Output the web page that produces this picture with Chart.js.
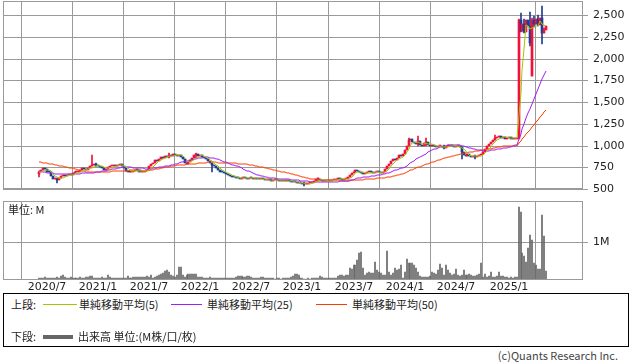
<!DOCTYPE html>
<html>
<head>
<meta charset="utf-8">
<script src="https://cdn.jsdelivr.net/npm/chart.js@4.4.1/dist/chart.umd.min.js"></script>
<style>
  body { margin: 0; width: 638px; height: 362px; background: #fff; position: relative; overflow: hidden;
         font-family: "Noto Sans CJK JP", "DejaVu Sans", sans-serif; color: #222; }
  .box { position: absolute; }
  .t { position: absolute; font-size: 11px; line-height: 13px; white-space: nowrap; }
  .ln { position: absolute; height: 1px; }
</style>
</head>
<body>
<div class="box" style="left:0;top:0;width:638px;height:192px"><canvas id="price"></canvas></div>
<div class="box" style="left:0;top:196px;width:638px;height:97px"><canvas id="vol"></canvas></div>
<div class="t" style="left:8px;top:203px">単位: M</div>

<div class="box" style="left:3px;top:293px;width:624px;height:52px;border:1px solid #000"></div>
<div class="t" style="left:11px;top:298px">上段:</div>
<div class="ln" style="left:43px;top:304px;width:34px;background:#a0c800"></div>
<div class="t" style="left:79px;top:298px">単純移動平均(5)</div>
<div class="ln" style="left:171px;top:304px;width:31px;background:#a020f0"></div>
<div class="t" style="left:207px;top:298px">単純移動平均(25)</div>
<div class="ln" style="left:316px;top:304px;width:31px;background:#ff3c00"></div>
<div class="t" style="left:352px;top:298px">単純移動平均(50)</div>
<div class="t" style="left:11px;top:330px">下段:</div>
<div class="ln" style="left:43px;top:335px;width:30px;height:4px;background:#666"></div>
<div class="t" style="left:78px;top:330px">出来高 単位:(M株/口/枚)</div>
<div class="t" style="right:20px;top:349px;color:#444">(c)Quants Research Inc.</div>

<script>
// weekly closes, June 2020 to May 2025
const closes = [
  700, 715, 745, 725, 700, 690, 650, 610, 620, 600,
  630, 650, 660, 655, 665, 670, 660, 680, 690, 700, 700,
  720, 740, 730, 720, 740, 760, 780, 790, 770, 760, 750,
  740, 720, 730, 750, 760, 770, 780, 760, 780, 790, 770,
  740, 710, 700, 690, 700, 710, 720, 715, 700, 690, 700, 710, 720,
  760, 790, 800, 830, 820, 850, 870, 860, 880, 870, 890, 880, 900, 890, 880, 895, 870,
  840, 800, 790, 810, 830, 860, 890, 900, 880, 890, 870,
  860, 840, 820, 800, 780, 760, 740, 720, 700, 690, 680, 670,
  660, 650, 640, 635, 630, 625, 620, 630, 640, 625, 620, 630, 625, 615, 620,
  615, 610, 620, 610, 600, 605, 610, 595, 600, 605, 600, 595,
  600, 595, 590, 595, 590, 585, 580,
  575, 570, 565, 570, 560, 555, 560, 565, 570, 575,
  590, 610, 615, 600, 595, 590,
  595, 600, 595, 600, 605, 610, 620, 615, 605, 610, 620,
  640, 660, 680, 700, 720, 710, 690, 680, 670,
  680, 690, 700, 690, 680, 690, 700, 690, 680, 700,
  730, 760, 790, 820, 840, 830, 860, 890, 880, 900,
  950, 1000, 1060, 1080, 1040,
  1030, 1020, 1050, 1010, 1000, 1030, 1040, 1010, 1000, 1010,
  990, 980, 990, 1000, 980, 970, 990, 1000, 1010, 990, 980, 990, 1000, 980,
  930, 890, 880, 900, 880,
  870, 880, 870, 880, 890, 900, 930, 960, 990, 1020, 1040, 1060,
  1090, 1100, 1110, 1090, 1100, 1080, 1090, 1100, 1080, 1070, 1080, 1085,
  2440,
  2320, 2400, 2310, 2440, 2380, 2180, 2440, 2400, 2450, 2390, 2470, 2290, 2330, 2380
];
const firstOpen = 670;
// weeks that opened away from the previous close: [week, open]
const gapOpens = [[251, 1800]];
// estimated closes of the 50 weeks before the window (for the moving averages)
const prevCloses = [
  880, 870, 860, 880, 890, 870, 860, 850, 870, 880, 860, 850, 870, 880, 890, 900, 910, 920, 930, 950,
  970, 990, 1000, 980, 960, 940, 900, 880, 850, 800, 760, 720, 700, 680, 650,
  620, 640, 650, 660, 680, 670, 690, 700, 680, 690, 700, 680, 690, 700, 690
];
// [week, low, high] for the longer shadows
const wicks = [
  [0, 640, 710], [9, 570, 630], [27, 760, 890], [29, 760, 800], [66, 860, 910], [80, 860, 915],
  [88, 690, 800], [135, 540, 575], [142, 590, 625], [188, 1000, 1090], [193, 1000, 1110],
  [197, 1000, 1090], [206, 960, 1010], [215, 845, 980], [222, 850, 890], [232, 1060, 1120],
  [244, 1080, 2460], [245, 2300, 2520], [247, 2290, 2450], [250, 2150, 2540], [251, 1800, 2470],
  [252, 2360, 2490], [254, 2380, 2500], [256, 2170, 2610], [257, 2290, 2350]
];
// weekly volume, millions
const volumes = [
  0.05, 0.06, 0.04, 0.08, 0.06, 0.05, 0.04, 0.06, 0.05, 0.07, 0.06,
  0.10, 0.13,
  0.07, 0.05, 0.04, 0.08, 0.06, 0.05, 0.04, 0.06,
  0.07, 0.05, 0.06, 0.08, 0.09, 0.10, 0.11,
  0.05, 0.06, 0.04, 0.05, 0.07, 0.06, 0.05, 0.13,
  0.08, 0.06, 0.05, 0.04, 0.05, 0.06, 0.05, 0.04, 0.06, 0.10,
  0.05, 0.06, 0.07, 0.08, 0.08, 0.09, 0.09, 0.08, 0.09, 0.10, 0.08, 0.13,
  0.06, 0.07, 0.10, 0.12, 0.15, 0.18, 0.23, 0.26, 0.22, 0.14,
  0.10, 0.08, 0.12, 0.35, 0.34, 0.12,
  0.09, 0.14, 0.16, 0.17, 0.17, 0.17, 0.16, 0.09,
  0.07, 0.08, 0.05, 0.06, 0.04, 0.07, 0.05, 0.06, 0.04, 0.05, 0.06, 0.05, 0.04, 0.05, 0.06, 0.04, 0.05, 0.06,
  0.09, 0.10, 0.11, 0.10, 0.09, 0.08, 0.10, 0.11, 0.07, 0.05, 0.04,
  0.06, 0.05, 0.08, 0.07, 0.05, 0.04, 0.06, 0.05, 0.04, 0.03, 0.05, 0.04, 0.03, 0.04, 0.05, 0.04, 0.06, 0.08, 0.10,
  0.15, 0.17, 0.12, 0.06,
  0.04, 0.03, 0.03, 0.04, 0.03, 0.04, 0.05, 0.04, 0.06, 0.10,
  0.08, 0.06, 0.04, 0.05, 0.04, 0.04, 0.05, 0.06,
  0.11, 0.13, 0.12, 0.10, 0.14, 0.12,
  0.31, 0.30, 0.40, 0.38, 0.53, 0.70, 0.73,
  0.31, 0.13, 0.19, 0.20, 0.19,
  0.19, 0.46, 0.25, 0.22, 0.18, 0.13, 0.12, 0.75, 0.20, 0.13,
  0.18, 0.31, 0.25, 0.28, 0.40, 0.05, 0.22, 0.56, 0.44, 0.44,
  0.44, 0.38, 0.31, 0.22, 0.10, 0.09, 0.08, 0.07, 0.08, 0.10,
  0.20, 0.19, 0.17, 0.27, 0.42, 0.31, 0.13, 0.40, 0.25, 0.18,
  0.12, 0.16, 0.28, 0.13, 0.10, 0.12, 0.27, 0.13, 0.13, 0.15,
  0.13, 0.10, 0.11, 0.13, 0.16, 0.44, 0.09, 0.16, 0.08, 0.10,
  0.22, 0.09, 0.08, 0.10, 0.22, 0.11, 0.10, 0.07, 0.08, 0.05, 0.09, 0.06, 0.07, 0.07,
  1.91, 1.78, 0.70, 0.64, 0.48, 0.83, 1.18, 1.05, 0.44, 0.38, 0.30, 0.28, 1.71, 1.16, 0.24
];
const tickWeeks = [4, 30, 56, 82, 108, 134, 160, 186, 212, 239];
const tickLabels = ['2020/7', '2021/1', '2021/7', '2022/1', '2022/7', '2023/1', '2023/7', '2024/1', '2024/7', '2025/1'];
const priceTicks = [500, 750, 1000, 1250, 1500, 1750, 2000, 2250, 2500];

const UP = '#f2103c', DOWN = '#1c3f94', GRID = '#9a9a9a';
const opens = closes.map((c, i) => i ? closes[i - 1] : firstOpen);
gapOpens.forEach(([w, o]) => { opens[w] = o; });
const colorAt = i => closes[i] >= opens[i] ? UP : DOWN;

function sma(n) {
  const all = prevCloses.concat(closes);
  return closes.map((_, i) => {
    const end = prevCloses.length + i + 1;
    let s = 0;
    for (let k = end - n; k < end; k++) s += all[k];
    return { x: i, y: s / n };
  });
}

const frame = {
  id: 'frame',
  afterDraw(c) {
    const a = c.chartArea, ctx = c.ctx;
    ctx.save();
    ctx.strokeStyle = GRID;
    ctx.lineWidth = 1;
    ctx.strokeRect(Math.round(a.left) + 0.5, Math.round(a.top) + 0.5,
      Math.round(a.right - a.left) - 1, Math.round(a.bottom - a.top) - 1);
    ctx.restore();
  }
};

// keep the plot area where the layout padding puts it (no extra room for end labels)
const noPad = s => { s.paddingTop = 0; s.paddingBottom = 0; s.paddingLeft = 0; s.paddingRight = 0; };

const xScale = (showLabels) => ({
  type: 'linear', min: -18.4, max: 276.8, offset: false, alignToPixels: true,
  afterBuildTicks: s => { s.ticks = tickWeeks.map(v => ({ value: v })); },
  afterFit: s => { s.height = showLabels ? 13 : 0; noPad(s); },
  grid: { color: GRID, drawTicks: false },
  border: { display: false },
  ticks: {
    display: showLabels, autoSkip: false, maxRotation: 0, padding: 1,
    color: '#222', font: { family: 'DejaVu Sans', size: 11 },
    callback: v => tickLabels[tickWeeks.indexOf(v)]
  }
});

Chart.defaults.animation = false;
Chart.defaults.plugins.legend.display = false;
Chart.defaults.plugins.tooltip.enabled = false;

new Chart(document.getElementById('price'), {
  type: 'bar',
  data: {
    datasets: [
      { type: 'line', data: sma(5), borderColor: '#a0c800', borderWidth: 1, pointRadius: 0, order: 0 },
      { type: 'line', data: sma(25), borderColor: '#a020f0', borderWidth: 1, pointRadius: 0, order: 1 },
      { type: 'line', data: sma(50), borderColor: '#ff3c00', borderWidth: 1, pointRadius: 0, order: 2 },
      {
        data: closes.map((c, i) => ({ x: i, y: [opens[i], c] })),
        backgroundColor: closes.map((c, i) => colorAt(i)),
        barThickness: 2, minBarLength: 1, grouped: false, order: 3
      },
      {
        data: wicks.map(w => ({ x: w[0], y: [w[1], w[2]] })),
        backgroundColor: wicks.map(w => colorAt(w[0])),
        barThickness: 1, grouped: false, order: 4
      }
    ]
  },
  options: {
    responsive: true, maintainAspectRatio: false,
    layout: { padding: { left: 3, top: 1, right: 0, bottom: 3 } },
    scales: {
      x: xScale(false),
      y: {
        position: 'right', min: 500, max: 2662, alignToPixels: true,
        afterBuildTicks: s => { s.ticks = priceTicks.map(v => ({ value: v })); },
        afterFit: s => { s.width = 55; noPad(s); },
        grid: { color: GRID, tickLength: 5 },
        border: { display: false },
        ticks: { padding: 5, color: '#222', font: { family: 'DejaVu Sans', size: 11 },
                 callback: v => v.toLocaleString('en-US') }
      }
    }
  },
  plugins: [frame]
});

new Chart(document.getElementById('vol'), {
  type: 'bar',
  data: {
    datasets: [{
      data: volumes.map((v, i) => ({ x: i, y: v })),
      backgroundColor: '#666', barPercentage: 1, categoryPercentage: 1
    }]
  },
  options: {
    responsive: true, maintainAspectRatio: false,
    layout: { padding: { left: 3, top: 5, right: 0, bottom: 0 } },
    scales: {
      x: xScale(true),
      y: {
        position: 'right', min: 0, max: 2.07, alignToPixels: true,
        afterBuildTicks: s => { s.ticks = [{ value: 1 }]; },
        afterFit: s => { s.width = 55; noPad(s); },
        grid: { color: GRID, tickLength: 5 },
        border: { display: false },
        ticks: { padding: 5, color: '#222', font: { family: 'DejaVu Sans', size: 11 },
                 callback: v => v + 'M' }
      }
    }
  },
  plugins: [frame]
});
</script>
</body>
</html>
